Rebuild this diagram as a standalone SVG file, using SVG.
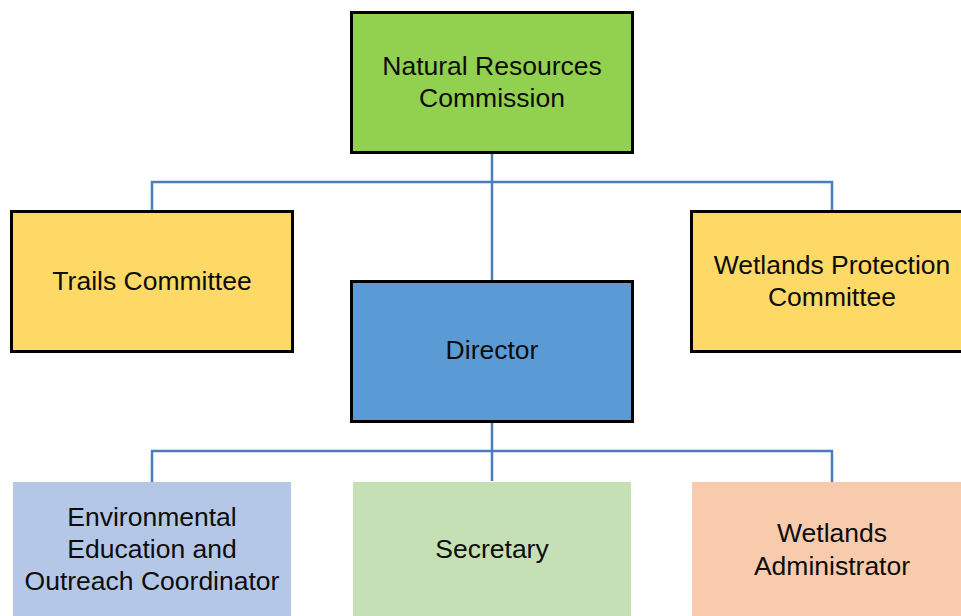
<svg xmlns="http://www.w3.org/2000/svg" width="961" height="616" viewBox="0 0 961 616">
<style>
.box{stroke:#000;stroke-width:3}
.flat{stroke:none}
.conn{fill:none;stroke:#4a7ebb;stroke-width:2.5}
text{font-family:"Liberation Sans",Arial,sans-serif;font-size:26.5px;fill:#0d0d0d;text-anchor:middle}
</style>
<rect width="961" height="616" fill="#fff"/>
<g id="connectors">
<path class="conn" d="M492 153V282M152 211V182H832V211"/>
<path class="conn" d="M492 422V481M152 482V451H832V482"/>
</g>
<g id="commission">
<rect class="box" x="351.5" y="12.5" width="281" height="140" fill="#92d050"/>
<text x="492" y="75">Natural Resources</text>
<text x="492" y="107">Commission</text>
</g>
<g id="trails">
<rect class="box" x="11.5" y="211.5" width="281" height="140" fill="#fed966"/>
<text x="152" y="290">Trails Committee</text>
</g>
<g id="wetlands-protection">
<rect class="box" x="691.5" y="211.5" width="281" height="140" fill="#fed966"/>
<text x="832" y="274">Wetlands Protection</text>
<text x="832" y="306">Committee</text>
</g>
<g id="director">
<rect class="box" x="351.5" y="281.5" width="281" height="140" fill="#5b9bd5"/>
<text x="492" y="359">Director</text>
</g>
<g id="env-ed">
<rect class="flat" x="13" y="482" width="278" height="141" fill="#b4c7e7"/>
<text x="152" y="526">Environmental</text>
<text x="152" y="558">Education and</text>
<text x="152" y="590">Outreach Coordinator</text>
</g>
<g id="secretary">
<rect class="flat" x="353" y="482" width="278" height="141" fill="#c5e0b4"/>
<text x="492" y="558">Secretary</text>
</g>
<g id="wetlands-admin">
<rect class="flat" x="692" y="482" width="278" height="141" fill="#f8cbad"/>
<text x="832" y="542">Wetlands</text>
<text x="832" y="575">Administrator</text>
</g>
</svg>
